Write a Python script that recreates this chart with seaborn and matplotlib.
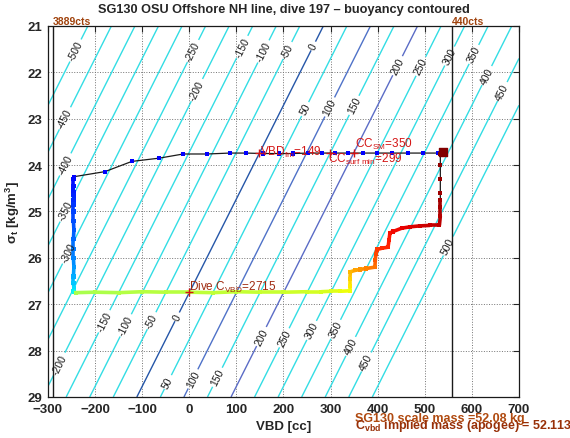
"""SG130 dive 197 buoyancy-contoured VBD vs sigma_t plot."""
import matplotlib
matplotlib.use('Agg')
import matplotlib.pyplot as plt
from matplotlib.collections import LineCollection
from matplotlib.colors import ListedColormap, Normalize
import numpy as np
import seaborn as sns

sns.set_theme(style='white')
plt.rcParams['font.family'] = ['Liberation Sans', 'DejaVu Sans']
plt.rcParams['mathtext.fontset'] = 'custom'
plt.rcParams['mathtext.rm'] = 'Liberation Sans'
plt.rcParams['mathtext.it'] = 'Liberation Sans:italic'
plt.rcParams['mathtext.bf'] = 'Liberation Sans:bold'

# buoyancy field: B = VBD + CC_PER_SIGMA * (sigma - NEUTRAL_SIGMA)
CC_PER_SIGMA = 49.5
NEUTRAL_SIGMA = 26.75
LEVELS = list(range(-500, 501, 50))
DARK_LEVELS = {0: '#2556a8', 100: '#4f72c8', 200: '#5b6cc6'}
CONTOUR_CYAN = '#33dde4'

# contour label spots (VBD, sigma)
LABEL_SPOTS = [
    (-247, 21.50), (-270, 22.96), (-264, 23.98), (-268, 24.95), (-260, 25.87),
    (-275, 28.29), (-190, 27.32), (-132, 27.47), (-79, 27.36), (-26, 27.27),
    (-45, 28.68), (8, 28.61), (59, 28.57), (156, 27.71), (207, 27.75),
    (263, 27.58), (309, 27.53), (345, 27.92), (377, 28.25), (549, 25.74),
    (8, 21.54), (12, 22.36), (112, 21.45), (156, 21.54), (203, 21.50),
    (263, 21.43), (246, 22.79), (299, 22.75), (352, 22.72), (443, 21.86),
    (490, 21.86), (553, 21.65), (602, 21.60), (634, 22.08), (666, 22.42),
]

# dive track, in time order
surf_vbd = [534, 528, 497, 465, 430, 399, 369, 337, 310, 282, 252, 220, 190,
            156, 120, 86, 38, -13, -64, -122, -179, -245]
surf_sigma = [23.74, 23.74, 23.74, 23.74, 23.74, 23.74, 23.74, 23.74, 23.74,
              23.74, 23.74, 23.75, 23.75, 23.75, 23.74, 23.74, 23.76, 23.76,
              23.85, 23.92, 24.14, 24.25]
surf_t = [0, 0.2, 0.4, 0.6, 0.8, 1.0, 1.2, 1.4, 1.6, 1.8, 2.0, 2.2, 2.4, 2.6,
          2.8, 3.0, 3.2, 3.4, 3.6, 3.8, 4.0, 4.2]

desc_vbd = [-246, -246, -247, -246, -246, -245, -246, -246, -246, -246,
            -245, -246, -246, -246, -245, -246, -246, -245, -246, -245]
desc_sigma = [24.30, 24.45, 24.52, 24.58, 24.64, 24.70, 24.76, 24.85, 25.00,
              25.20, 25.40, 25.60, 25.80, 26.00, 26.20, 26.40, 26.55, 26.65,
              26.72, 26.74]
desc_t = [6, 8, 9, 10, 11, 12, 13, 15, 18, 21, 24, 27, 30, 33, 37, 42, 47,
          52, 56, 58]

apo_vbd = [-240, -200, -150, -100, -50, 0, 50, 100, 150, 200, 250, 280, 300,
           320, 341]
apo_sigma = [26.75, 26.74, 26.75, 26.73, 26.74, 26.74, 26.75, 26.73, 26.74,
             26.74, 26.73, 26.73, 26.72, 26.72, 26.71]
apo_t = [100, 101, 102, 103, 104, 105, 106, 107, 108, 109, 110, 112, 114,
         117, 119]

climb_vbd = [341, 341, 342, 352, 362, 375, 394, 395, 396, 398, 410, 422, 424,
             426, 433, 451, 469, 490, 511, 531, 533, 533, 533, 533, 533, 533,
             533, 539]
climb_sigma = [26.60, 26.45, 26.30, 26.27, 26.25, 26.23, 26.20, 26.05, 25.92,
               25.82, 25.79, 25.77, 25.62, 25.46, 25.43, 25.36, 25.33, 25.31,
               25.30, 25.30, 25.10, 24.90, 24.75, 24.60, 24.30, 24.00, 23.76,
               23.71]
climb_t = [124, 130, 136, 140, 144, 148, 152, 158, 162, 166, 169, 171, 173,
           175, 177, 179, 181, 183, 185, 187, 189, 191, 192, 193, 194, 196,
           198, 200]

track_vbd = surf_vbd + desc_vbd + apo_vbd + climb_vbd
track_sigma = surf_sigma + desc_sigma + apo_sigma + climb_sigma
track_t = surf_t + desc_t + apo_t + climb_t

# markers / annotations
VBD_FM = 149
CC_SM = 350
CC_SURF_MIN = 299
DIVE_C_VBD = 2715
SURF_SIGMA = 23.74
APOGEE_SIGMA = 26.74
VBD_MIN_LINE, VBD_MAX_LINE = -290, 557
RED = '#d41414'
BROWN = '#a0420c'

jet_cut = ListedColormap(plt.cm.jet(np.linspace(0.11, 1.0, 256)))
tnorm = Normalize(0, 200)

fig = plt.figure(figsize=(5.7, 4.39), dpi=100)
ax = fig.add_axes([0.0842, 0.0934, 0.8263, 0.8451])
ax.set_xlim(-300, 700)
ax.set_ylim(29, 21)

# buoyancy contours
xs = np.linspace(-300, 700, 201)
ys = np.linspace(21, 29, 81)
X, Y = np.meshgrid(xs, ys)
B = X + CC_PER_SIGMA * (Y - NEUTRAL_SIGMA)
line_colors = [DARK_LEVELS.get(lv, CONTOUR_CYAN) for lv in LEVELS]
cs = ax.contour(X, Y, B, levels=LEVELS, colors=line_colors, linewidths=1.0)
labels = ax.clabel(cs, fmt='%d', fontsize=7.5, colors='k', inline=True,
                   inline_spacing=2, manual=LABEL_SPOTS)
# inverted y axis flips clabel's rotation; set the on-screen angle directly
p = ax.transData.transform([(0, NEUTRAL_SIGMA),
                            (CC_PER_SIGMA, NEUTRAL_SIGMA - 1)])
angle = np.degrees(np.arctan2(p[1, 1] - p[0, 1], p[1, 0] - p[0, 0]))
for t in labels:
    t.set_transform_rotates_text(False)
    t.set_rotation(angle)

ax.axvline(VBD_MIN_LINE, color='k', lw=1.0)
ax.axvline(VBD_MAX_LINE, color='k', lw=1.0)

# track: thin black line, thick colour where samples are dense
sns.lineplot(x=track_vbd, y=track_sigma, sort=False, estimator=None,
             color='k', lw=0.9, ax=ax)
i0 = len(surf_vbd)
i1 = len(track_vbd) - 5
pts = np.column_stack([track_vbd[i0:i1], track_sigma[i0:i1]])
segs = np.stack([pts[:-1], pts[1:]], axis=1)
mid_t = [(track_t[i0 + k] + track_t[i0 + k + 1]) / 2 for k in range(len(segs))]
ax.add_collection(LineCollection(segs, colors=jet_cut(tnorm(mid_t)), lw=2.6,
                                 zorder=2.5))
sns.scatterplot(x=track_vbd, y=track_sigma, hue=track_t, palette=jet_cut,
                hue_norm=(0, 200), s=9, marker='s', linewidth=0,
                legend=False, ax=ax, zorder=3)
ax.scatter([539], [23.71], marker='s', s=40, color='#800000', zorder=4)

# marker annotations
for xv, yv in [(VBD_FM, SURF_SIGMA), (CC_SM, SURF_SIGMA),
               (CC_SURF_MIN, SURF_SIGMA), (0, APOGEE_SIGMA)]:
    ax.plot(xv, yv, '+', color=RED, ms=6, mew=1.0, zorder=5)
ax.text(VBD_FM + 2, SURF_SIGMA - 0.03, r'VBD$_{\mathrm{fm}}$=%d' % VBD_FM,
        color=RED, fontsize=8.5, va='center', ha='left')
ax.text(CC_SM + 2, SURF_SIGMA - 0.2, r'CC$_{\mathrm{SM}}$=%d' % CC_SM,
        color=RED, fontsize=8.5, va='center', ha='left')
ax.text(CC_SURF_MIN - 4, SURF_SIGMA + 0.12,
        r'CC$_{\mathrm{surf\ min}}$=%d' % CC_SURF_MIN,
        color=RED, fontsize=8.5, va='center', ha='left')
ax.text(0, APOGEE_SIGMA - 0.12, r'Dive C$_{\mathrm{VBD}}$=%d' % DIVE_C_VBD,
        color='#a02a10', fontsize=8.5, va='center', ha='left')

ax.text(VBD_MIN_LINE, 21, '3889cts', color=BROWN, fontsize=7.5,
        fontweight='bold', ha='left', va='bottom')
ax.text(VBD_MAX_LINE, 21, '440cts', color=BROWN, fontsize=7.5,
        fontweight='bold', ha='left', va='bottom')
ax.text(352, 29.45, 'SG130 scale mass =52.08 kg', color='#b04a10',
        fontsize=9, fontweight='bold', ha='left', va='center', clip_on=False)
ax.text(352, 29.6, r'C$_{\mathbf{vbd}}$ implied mass (apogee) = 52.113',
        color='#983008', fontsize=9, fontweight='bold', ha='left',
        va='center', clip_on=False)

ax.set_xticks(range(-300, 701, 100))
ax.set_yticks(range(21, 30))
ax.tick_params(direction='in', length=4, width=0.8, top=True, right=True,
               labelsize=9.5, pad=4)
for lab in ax.get_xticklabels() + ax.get_yticklabels():
    lab.set_fontweight('bold')
ax.grid(True, linestyle=':', color='0.45', lw=0.7)
for sp in ax.spines.values():
    sp.set_color('k')
    sp.set_linewidth(0.9)

ax.set_xlabel('VBD [cc]', fontweight='bold', fontsize=9.5, labelpad=4)
ax.set_ylabel(r'σ$_{\mathbf{t}}$ [kg/m$^{\mathbf{3}}$]', fontweight='bold',
              fontsize=9.5, labelpad=4)
ax.set_title('SG130 OSU Offshore NH line, dive 197 \u2013 buoyancy contoured',
             fontweight='bold', fontsize=9.2, pad=10)

fig.savefig('out.png', dpi=100)
